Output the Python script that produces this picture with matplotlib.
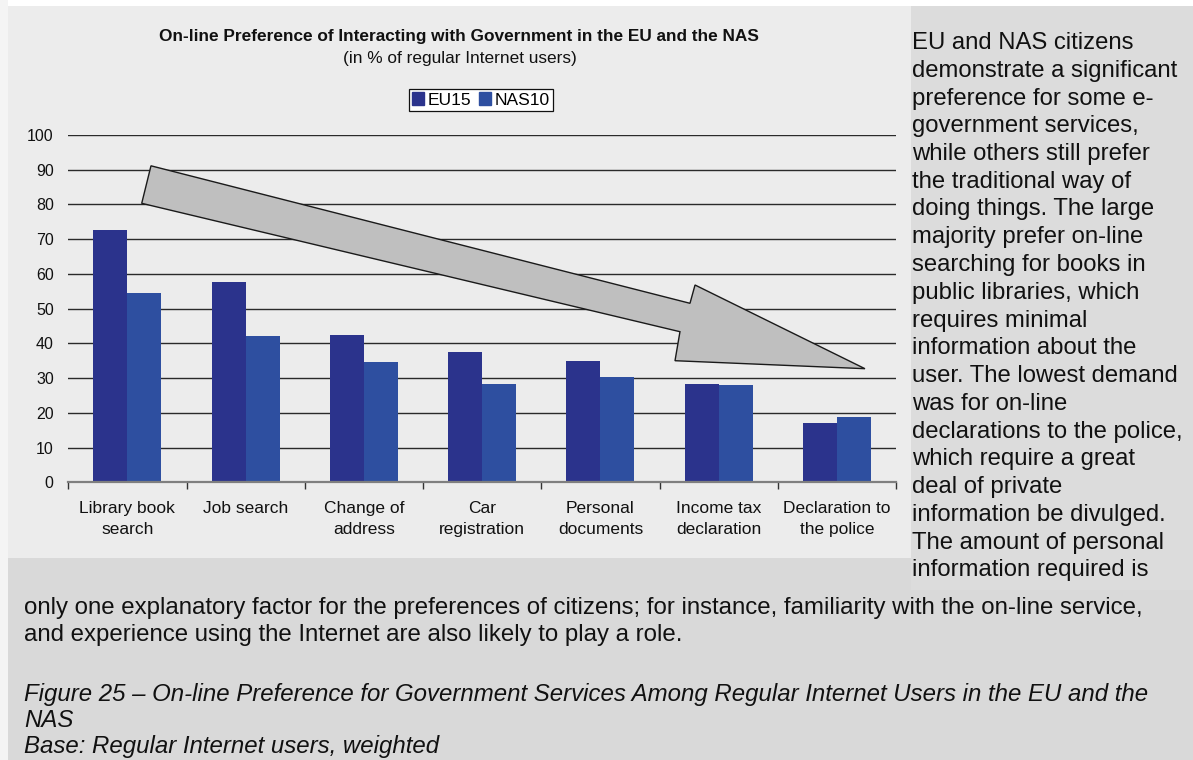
import matplotlib
matplotlib.use('Agg')
import matplotlib.pyplot as plt
from matplotlib.patches import Rectangle, Polygon
import numpy as np

# ---------------- data ----------------
categories = ["Library book\nsearch", "Job search", "Change of\naddress", "Car\nregistration",
              "Personal\ndocuments", "Income tax\ndeclaration", "Declaration to\nthe police"]
eu15 = [72.6, 57.7, 42.4, 37.6, 35.0, 28.3, 17.1]
nas10 = [54.5, 42.1, 34.6, 28.3, 30.3, 28.0, 18.9]
series_names = ["EU15", "NAS10"]
yticks = [0, 10, 20, 30, 40, 50, 60, 70, 80, 90, 100]

title = "On-line Preference of Interacting with Government in the EU and the NAS"
subtitle = "(in % of regular Internet users)"

side_lines = ["EU and NAS citizens", "demonstrate a significant", "preference for some e-",
              "government services,", "while others still prefer", "the traditional way of",
              "doing things. The large", "majority prefer on-line", "searching for books in",
              "public libraries, which", "requires minimal", "information about the",
              "user. The lowest demand", "was for on-line", "declarations to the police,",
              "which require a great", "deal of private", "information be divulged.",
              "The amount of personal", "information required is"]
bottom_lines = ["only one explanatory factor for the preferences of citizens; for instance, familiarity with the on-line service,",
                "and experience using the Internet are also likely to play a role."]
caption_lines = ["Figure 25 \u2013 On-line Preference for Government Services Among Regular Internet Users in the EU and the",
                 "NAS", "Base: Regular Internet users, weighted"]

# ---------------- layout ----------------
W, H = 1193, 760
plt.rcParams['font.family'] = ['Liberation Sans', 'DejaVu Sans']
fig = plt.figure(figsize=(W / 100, H / 100), dpi=100)
fig.patch.set_facecolor('#d9d9d9')


def fx(x):
    return x / W


def fy(y):
    return 1 - y / H


def rect(x0, y0, x1, y1, color):
    fig.patches.append(Rectangle((fx(x0), fy(y1)), (x1 - x0) / W, (y1 - y0) / H,
                                 transform=fig.transFigure, facecolor=color,
                                 edgecolor='none', zorder=-5))


rect(0, 0, W, 6, '#ffffff')
rect(0, 0, 8, H, '#f4f4f4')
rect(8, 6, 911, 558, '#ececec')
rect(911, 6, W, 590, '#dcdcdc')

ax_left, ax_right, ax_top, ax_bottom = 68.3, 896.0, 135.0, 482.3
ax = fig.add_axes([fx(ax_left), fy(ax_bottom), (ax_right - ax_left) / W, (ax_bottom - ax_top) / H])
ax.patch.set_visible(False)

x = np.arange(len(categories))
w = 0.287
ax.bar(x - w / 2, eu15, w, color='#2B338C', zorder=2, label=series_names[0])
ax.bar(x + w / 2, nas10, w, color='#2E4FA0', zorder=2, label=series_names[1])

ax.set_xlim(-0.5, len(categories) - 0.5)
ax.set_ylim(0, 100)
ax.set_yticks(yticks)
ax.yaxis.grid(True, color='#2a2a2a', lw=1.0, zorder=0)
ax.set_axisbelow(True)
for s in ['top', 'right', 'left']:
    ax.spines[s].set_visible(False)
ax.spines['bottom'].set_color('#7f7f7f')
ax.spines['bottom'].set_linewidth(1.6)
ax.spines['bottom'].set_zorder(4)

ax.tick_params(axis='y', length=0, pad=10.5, labelsize=11.5, labelcolor='#111111')
ax.set_xticks(x)
ax.set_xticklabels(categories)
ax.tick_params(axis='x', which='major', length=0, pad=13.5, labelsize=12.5, labelcolor='#111111')
ax.set_xticks(np.arange(-0.5, len(categories), 1), minor=True)
ax.tick_params(axis='x', which='minor', length=5, width=1, color='#333333', direction='out')
for lbl in ax.get_xticklabels():
    lbl.set_linespacing(1.5)

# decorative trend arrow (axes fraction)
arrow_pts = [(0.0999, 0.9113), (0.7511, 0.5154), (0.7572, 0.5681), (0.9625, 0.3271),
             (0.7330, 0.3501), (0.7390, 0.4336), (0.0887, 0.8033)]
ax.add_patch(Polygon(arrow_pts, closed=True, transform=ax.transAxes, facecolor='#bfbfbf',
                     edgecolor='#1a1a1a', lw=1.0, zorder=3, clip_on=False))

# legend
handles = [Rectangle((0, 0), 1, 1, color='#2B338C'), Rectangle((0, 0), 1, 1, color='#2E4FA0')]
leg = fig.legend(handles, series_names, loc='center', bbox_to_anchor=(fx(481), fy(100)), ncol=2,
                 frameon=True, fancybox=False, edgecolor='#111111', framealpha=1, facecolor='#ffffff',
                 fontsize=12.5, handlelength=0.7, handleheight=0.7, handletextpad=0.2,
                 columnspacing=0.45, borderpad=0.2, borderaxespad=0)
leg.get_frame().set_linewidth(0.9)

renderer = fig.canvas.get_renderer()


def fit(t, target_px):
    wpx = t.get_window_extent(renderer).width
    t.set_fontsize(t.get_fontsize() * target_px / wpx)


t_title = fig.text(fx(459), fy(37), title, ha='center', va='center', fontweight='bold', fontsize=10.5, color='#111111')
fit(t_title, 601)
t_sub = fig.text(fx(459.5), fy(58), subtitle, ha='center', va='center', fontsize=10.5, color='#111111')
fit(t_sub, 235)

# side text
probe = fig.text(0, 0, side_lines[1], fontsize=17)
fit(probe, 266)
side_fs = probe.get_fontsize()
probe.remove()
for k, line in enumerate(side_lines):
    fig.text(fx(912), fy(49 + 27.75 * k), line, ha='left', va='baseline', fontsize=side_fs, color='#111111')

# bottom text
probe = fig.text(0, 0, bottom_lines[0], fontsize=17)
fit(probe, 1120)
bfs = probe.get_fontsize()
probe.remove()
for k, line in enumerate(bottom_lines):
    fig.text(fx(24), fy(614 + 27 * k), line, ha='left', va='baseline', fontsize=bfs, color='#111111')

probe = fig.text(0, 0, caption_lines[0], fontsize=17, style='italic')
fit(probe, 1123)
cfs = probe.get_fontsize()
probe.remove()
for k, line in enumerate(caption_lines):
    fig.text(fx(24), fy(701 + 26 * k), line, ha='left', va='baseline', fontsize=cfs, style='italic', color='#111111')

fig.savefig('out.png', dpi=100, facecolor=fig.get_facecolor())
